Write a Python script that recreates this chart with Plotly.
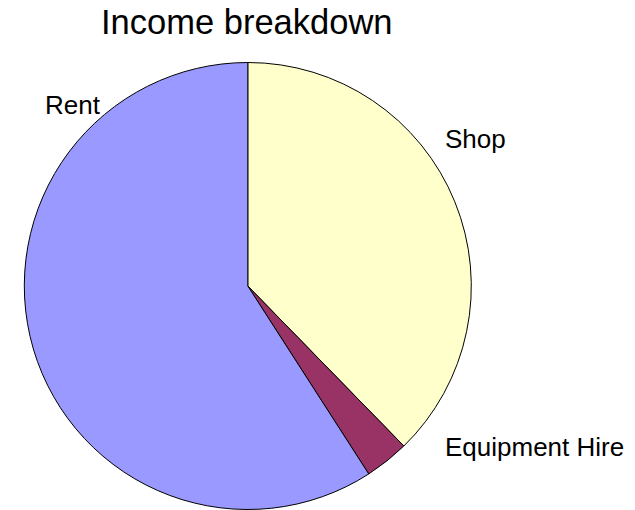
import plotly.graph_objects as go

categories = ["Shop", "Equipment Hire", "Rent"]
values = [37.7, 3.2, 59.1]
colors = ["#FFFFCC", "#993366", "#9999FF"]

W, H = 635, 510
cx, cy, r = 247.8, 286.0, 223.5

fig = go.Figure(go.Pie(
    labels=categories,
    values=values,
    sort=False,
    direction="clockwise",
    rotation=0,
    marker=dict(colors=colors, line=dict(color="black", width=1)),
    textinfo="none",
    hoverinfo="label+value",
    showlegend=False,
    domain=dict(x=[(cx - r) / W, (cx + r) / W], y=[1 - (cy + r) / H, 1 - (cy - r) / H]),
))

font = "Liberation Sans, Arial, sans-serif"
# label positions (left x px, cap-center y px)
label_pos = {"Rent": (43, 105), "Shop": (443, 139), "Equipment Hire": (443, 446.5)}
for name in categories:
    x, y = label_pos[name]
    fig.add_annotation(x=x / W, y=1 - y / H, xref="paper", yref="paper",
                       text=name, showarrow=False, xanchor="left", yanchor="middle",
                       font=dict(family=font, size=26, color="black"))

fig.add_annotation(x=247.5 / W, y=1 - 22 / H, xref="paper", yref="paper",
                   text="Income breakdown", showarrow=False, xanchor="center", yanchor="middle",
                   font=dict(family=font, size=34.5, color="black"))

fig.update_layout(width=W, height=H, margin=dict(l=0, r=0, t=0, b=0),
                  paper_bgcolor="white", plot_bgcolor="white")

fig.write_html("out.html", config={"displayModeBar": False},
               post_script="document.body.style.margin='0';document.body.style.overflow='hidden';")
